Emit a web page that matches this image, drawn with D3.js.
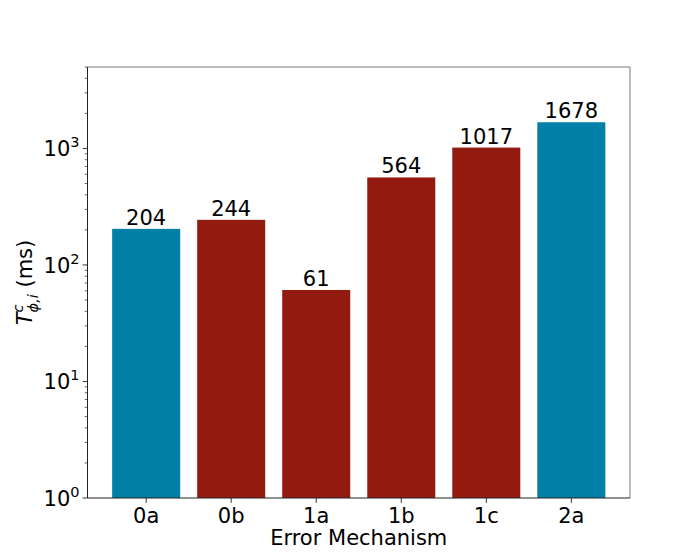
<!DOCTYPE html>
<html>
<head>
<meta charset="utf-8">
<script src="https://cdn.jsdelivr.net/npm/d3@7"></script>
<style>
	body { margin: 0; background: #fff; }
	svg text { font-family: 'DejaVu Sans', sans-serif; fill: #000; }
</style>
</head>
<body>
<div id="chart"></div>
<script>
	'use strict';

	var mechanisms = ['0a', '0b', '1a', '1b', '1c', '2a'];
	var times = [204, 244, 61, 564, 1017, 1678];
	var groups = ['blue', 'red', 'red', 'red', 'red', 'blue'];
	var yTicks = [1, 10, 100, 1000];

	var colors = {
		blue: '#007fa7',
		red: '#921a0e'
	};

	var width = 700,
		height = 560,
		margin = { left: 87.5, right: 70, top: 67, bottom: 62 };

	var fs = '21px', fsSmall = '14.5px';

	var svg = d3.select('#chart').append('svg')
		.attr('width', width)
		.attr('height', height);

	var innerW = width - margin.left - margin.right,
		innerH = height - margin.top - margin.bottom;

	var g = svg.append('g')
		.attr('transform', 'translate(' + margin.left + ',' + margin.top + ')');

	// matplotlib-like band: bar width 0.8, margins 0.05 of data span
	var x = d3.scaleLinear()
		.domain([-0.69, mechanisms.length - 1 + 0.69])
		.range([0, innerW]);
	var barW = x(0.8) - x(0);

	var y = d3.scaleLog()
		.domain([1, 5000])
		.range([innerH, 0]);

	// bars
	g.selectAll('rect.bar')
		.data(times)
		.enter().append('rect')
		.attr('class', 'bar')
		.attr('x', function(d, i) { return x(i) - barW / 2; })
		.attr('width', barW)
		.attr('y', function(d) { return y(d); })
		.attr('height', function(d) { return innerH - y(d); })
		.style('fill', function(d, i) { return colors[groups[i]]; });

	// value labels
	g.selectAll('text.value')
		.data(times)
		.enter().append('text')
		.attr('class', 'value')
		.attr('x', function(d, i) { return x(i); })
		.attr('y', function(d) { return y(d) - 4; })
		.attr('text-anchor', 'middle')
		.style('font-size', fs)
		.text(function(d) { return d; });

	// minor ticks on y
	var minor = [];
	for (var e = 0; e < 4; e++) {
		for (var k = 2; k < 10; k++) {
			var v = k * Math.pow(10, e);
			if (v <= 5000) minor.push(v);
		}
	}
	g.selectAll('line.minor')
		.data(minor)
		.enter().append('line')
		.attr('class', 'minor')
		.attr('x1', -2.8).attr('x2', 0)
		.attr('y1', function(d) { return y(d); })
		.attr('y2', function(d) { return y(d); })
		.style('stroke', '#000')
		.style('stroke-width', 0.6);

	// major y ticks
	var yt = g.selectAll('g.ytick')
		.data(yTicks)
		.enter().append('g')
		.attr('class', 'ytick')
		.attr('transform', function(d) { return 'translate(0,' + y(d) + ')'; });
	yt.append('line')
		.attr('x1', -4.9).attr('x2', 0)
		.style('stroke', '#000')
		.style('stroke-width', 0.8);
	var ytText = yt.append('text')
		.attr('x', -8)
		.attr('y', 8)
		.attr('text-anchor', 'end')
		.style('font-size', fs);
	ytText.append('tspan').text('10');
	ytText.append('tspan')
		.attr('dy', -9)
		.style('font-size', fsSmall)
		.text(function(d) { return Math.round(Math.log10(d)); });

	// x ticks
	var xt = g.selectAll('g.xtick')
		.data(mechanisms)
		.enter().append('g')
		.attr('class', 'xtick')
		.attr('transform', function(d, i) { return 'translate(' + x(i) + ',' + innerH + ')'; });
	xt.append('line')
		.attr('y1', 0).attr('y2', 4.9)
		.style('stroke', '#000')
		.style('stroke-width', 0.8);
	xt.append('text')
		.attr('y', 25)
		.attr('text-anchor', 'middle')
		.style('font-size', fs)
		.text(function(d) { return d; });

	// spines
	g.append('line')
		.attr('x1', 0).attr('x2', innerW).attr('y1', 0).attr('y2', 0)
		.style('stroke', '#777').style('stroke-width', 1);
	g.append('line')
		.attr('x1', innerW).attr('x2', innerW).attr('y1', 0).attr('y2', innerH)
		.style('stroke', '#777').style('stroke-width', 1);
	g.append('line')
		.attr('x1', 0).attr('x2', 0).attr('y1', 0).attr('y2', innerH)
		.style('stroke', '#222').style('stroke-width', 1);
	g.append('line')
		.attr('x1', 0).attr('x2', innerW).attr('y1', innerH).attr('y2', innerH)
		.style('stroke', '#222').style('stroke-width', 1);

	// axis labels
	g.append('text')
		.attr('x', innerW / 2)
		.attr('y', innerH + 47)
		.attr('text-anchor', 'middle')
		.style('font-size', fs)
		.text('Error Mechanism');

	var yl = svg.append('text')
		.attr('transform', 'translate(32,' + (margin.top + innerH / 2) + ') rotate(-90)')
		.attr('text-anchor', 'middle')
		.style('font-size', fs);
	yl.append('tspan').style('font-style', 'italic').text('T');
	yl.append('tspan').attr('dy', -9).style('font-size', fsSmall).style('font-style', 'italic').text('c');
	yl.append('tspan').attr('dx', -8).attr('dy', 15).style('font-size', fsSmall).style('font-style', 'italic').text('ϕ,i');
	yl.append('tspan').attr('dy', -6).text(' (ms)');
</script>
</body>
</html>
